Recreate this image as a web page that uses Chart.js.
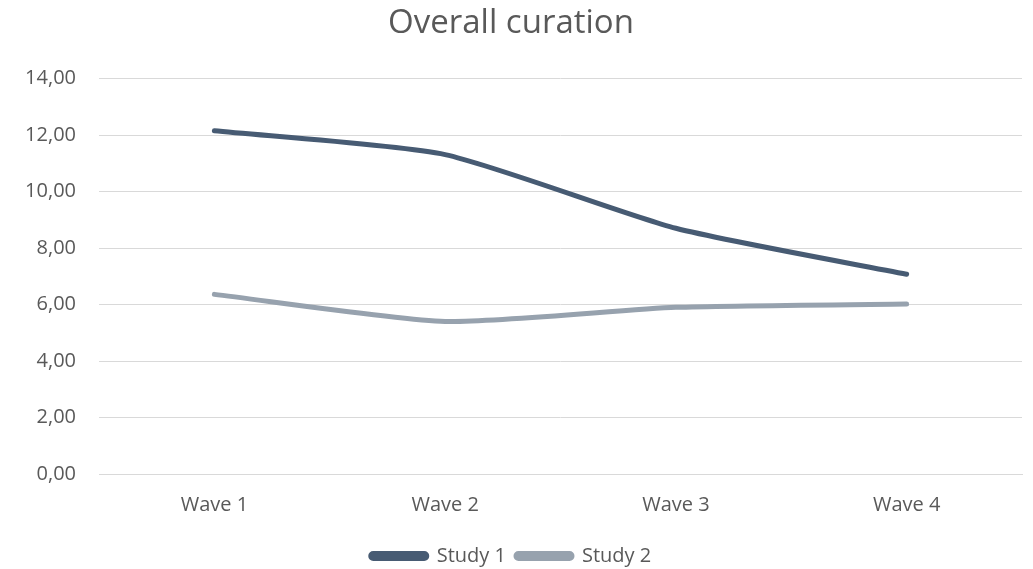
<!DOCTYPE html>
<html>
<head>
<meta charset="utf-8">
<script src="https://cdn.jsdelivr.net/npm/chart.js@4.4.0/dist/chart.umd.min.js"></script>
<style>
  html, body { margin: 0; padding: 0; background: #fff; }
  #wrap { width: 1033px; height: 569px; }
</style>
</head>
<body>
<div id="wrap"><canvas id="myChart"></canvas></div>
<script>
// valeurs
const vagues = ["Wave 1", "Wave 2", "Wave 3", "Wave 4"];
const etude1 = [12.15, 11.31, 8.70, 7.07];
const etude2 = [6.36, 5.40, 5.90, 6.02];

const grisTexte = "#595959";
const police = "'Open Sans', 'Noto Sans', sans-serif";

const ctx = document.getElementById("myChart").getContext("2d");
const myChart = new Chart(ctx, {
    type: "line",
    data: {
        labels: vagues,
        datasets: [{
            label: "Study 1",
            data: etude1,
            borderColor: "#475B73",
            backgroundColor: "#475B73",
            borderWidth: 5,
            tension: 0.2,
            pointRadius: 0,
            borderCapStyle: "round"
        }, {
            label: "Study 2",
            data: etude2,
            borderColor: "#97A2AE",
            backgroundColor: "#97A2AE",
            borderWidth: 5,
            tension: 0.2,
            pointRadius: 0,
            borderCapStyle: "round"
        }]
    },
    options: {
        responsive: true,
        maintainAspectRatio: false,
        animation: false,
        layout: { padding: { left: 0, right: 11, top: 4, bottom: -7 } },
        plugins: {
            title: {
                display: true,
                text: "Overall curation",
                color: grisTexte,
                font: { family: police, size: 33, weight: "normal" },
                padding: { top: 0, bottom: 35 }
            },
            legend: {
                position: "bottom",
                labels: {
                    color: grisTexte,
                    font: { family: police, size: 20 },
                    boxWidth: 56,
                    boxHeight: 5,
                    padding: 10,
                    useBorderRadius: true,
                    borderRadius: 2.5
                }
            },
            tooltip: { enabled: false }
        },
        scales: {
            x: {
                offset: true,
                grid: { display: false, drawTicks: false },
                border: { color: "#D9D9D9", width: 1 },
                ticks: {
                    color: grisTexte,
                    font: { family: police, size: 20 },
                    padding: 19
                }
            },
            y: {
                min: 0,
                max: 14,
                afterFit: function (axe) { axe.width = 99; },
                grid: { color: "#D9D9D9", lineWidth: 1, drawTicks: false },
                border: { display: false },
                ticks: {
                    stepSize: 2,
                    color: grisTexte,
                    font: { family: police, size: 20 },
                    padding: 23,
                    callback: function (v) { return v.toFixed(2).replace(".", ","); }
                }
            }
        }
    }
});
</script>
</body>
</html>
